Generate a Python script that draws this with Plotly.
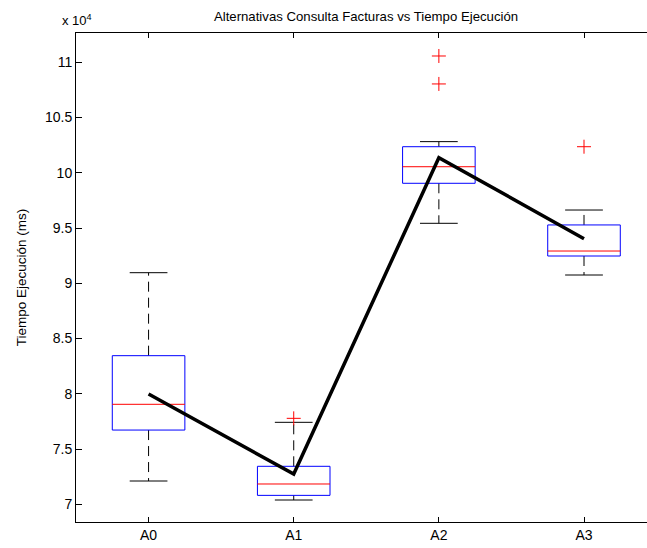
import plotly.graph_objects as go

# Data (ms)
categories = ["A0", "A1", "A2", "A3"]
lower_whisker = [72110, 70390, 95430, 90750]
q1 = [76720, 70810, 99050, 92470]
median = [79050, 71840, 100550, 92920]
q3 = [83450, 73440, 102360, 95280]
upper_whisker = [90960, 77420, 102820, 96630]
means = [79980, 72740, 101370, 94040]
outliers = [[], [77780], [108040, 110570], [102360]]

tick_vals = [70000, 75000, 80000, 85000, 90000, 95000, 100000, 105000, 110000]
tick_text = ["7", "7.5", "8", "8.5", "9", "9.5", "10", "10.5", "11"]

BOX_HALF = 0.25
CAP_HALF = 0.13
FONT = "Liberation Sans, Arial, sans-serif"

fig = go.Figure()
pos = list(range(1, len(categories) + 1))

for i, p in enumerate(pos):
    fig.add_trace(go.Scatter(x=[p, p], y=[q3[i], upper_whisker[i]], mode="lines",
                             line=dict(color="black", width=1, dash="10px,6px"),
                             showlegend=False, hoverinfo="skip"))
    fig.add_trace(go.Scatter(x=[p, p], y=[q1[i], lower_whisker[i]], mode="lines",
                             line=dict(color="black", width=1, dash="10px,6px"),
                             showlegend=False, hoverinfo="skip"))
    for w in (upper_whisker[i], lower_whisker[i]):
        fig.add_trace(go.Scatter(x=[p - CAP_HALF, p + CAP_HALF], y=[w, w], mode="lines",
                                 line=dict(color="black", width=1),
                                 showlegend=False, hoverinfo="skip"))
    fig.add_trace(go.Scatter(x=[p - BOX_HALF, p + BOX_HALF, p + BOX_HALF, p - BOX_HALF, p - BOX_HALF],
                             y=[q1[i], q1[i], q3[i], q3[i], q1[i]], mode="lines",
                             line=dict(color="blue", width=1),
                             showlegend=False, hoverinfo="skip"))
    fig.add_trace(go.Scatter(x=[p - BOX_HALF, p + BOX_HALF], y=[median[i], median[i]], mode="lines",
                             line=dict(color="red", width=1),
                             showlegend=False, hoverinfo="skip"))
    if outliers[i]:
        fig.add_trace(go.Scatter(x=[p] * len(outliers[i]), y=outliers[i], mode="markers",
                                 marker=dict(symbol="cross-thin-open", size=10, color="red",
                                             line=dict(color="red", width=1)),
                                 showlegend=False, hoverinfo="skip"))

fig.add_trace(go.Scatter(x=pos, y=means, mode="lines",
                         line=dict(color="black", width=3.5),
                         showlegend=False))

fig.update_layout(
    width=647, height=548,
    margin=dict(l=76, r=0, t=33, b=26, autoexpand=False),
    paper_bgcolor="white", plot_bgcolor="white",
    font=dict(family=FONT, size=14, color="black"),
    title=dict(text="Alternativas Consulta Facturas vs Tiempo Ejecución",
               x=366 / 647, xanchor="center", y=1 - 16 / 548, yanchor="middle",
               font=dict(size=13.2)),
    xaxis=dict(range=[0.5, 4.434], tickvals=pos, ticktext=categories,
               showline=True, linecolor="black", linewidth=1, mirror="ticks",
               ticks="inside", ticklen=5, tickcolor="black", showgrid=False,
               zeroline=False, automargin=False),
    yaxis=dict(range=[68400, 112650], tickvals=tick_vals, ticktext=tick_text,
               showline=True, linecolor="black", linewidth=1, mirror=False,
               ticks="inside", ticklen=6, tickcolor="black", showgrid=False,
               zeroline=False, automargin=False,
               title=dict(text="Tiempo Ejecución (ms)", standoff=15, font=dict(size=13.5))),
    annotations=[dict(text="x 10<sup>4</sup>", xref="paper", yref="paper",
                      x=0.0, y=1.0, xanchor="center", yanchor="bottom",
                      xshift=1, yshift=3, showarrow=False, font=dict(size=13))],
)

fig.write_html("out.html",
               config={"displayModeBar": False},
               post_script="document.body.style.margin='0';"
                           "document.body.style.overflow='hidden';"
                           "document.documentElement.style.overflow='hidden';")
